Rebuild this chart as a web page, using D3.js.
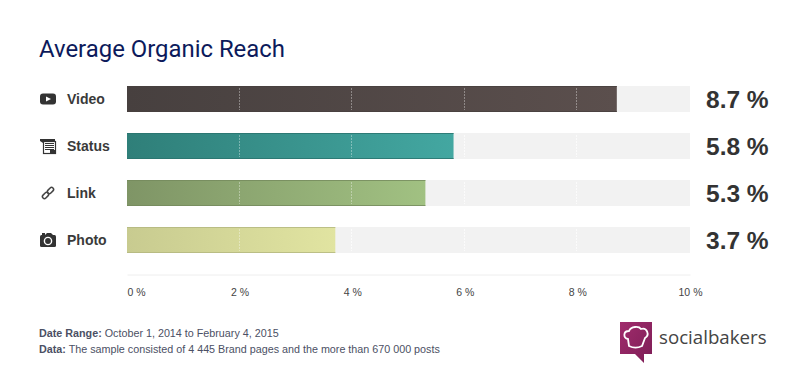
<!DOCTYPE html>
<html>
<head>
<meta charset="utf-8">
<script src="https://cdn.jsdelivr.net/npm/d3@7"></script>
<style>
html, body { margin: 0; padding: 0; background: #fff; overflow: hidden; }
text { font-family: "Liberation Sans", Arial, sans-serif; }
</style>
</head>
<body>
<script>
const categories = ["Video", "Status", "Link", "Photo"];
const reach = [8.7, 5.8, 5.3, 3.7];
const tickValues = [0, 2, 4, 6, 8, 10];
const gradientStart = ["#47403f", "#2f7f79", "#7f9566", "#c8cb90"];
const gradientEnd = ["#5b4f4d", "#43a7a1", "#a1c182", "#e1e4a1"];
const barBorder = ["#47403f", "#2a736e", "#74895c", "#b3b67f"];

const svgWidth = 802, svgHeight = 387;
const margin = {left: 127, right: 112, top: 86, bottom: 113};

const svg = d3.select("body").append("svg")
    .attr("width", svgWidth)
    .attr("height", svgHeight)
    .style("display", "block");

const x = d3.scaleLinear()
    .domain([0, 10])
    .range([margin.left, svgWidth - margin.right]);

const y = d3.scaleBand()
    .domain(categories)
    .range([margin.top - 10.5, margin.top + 188 - 10.5])
    .paddingInner(21 / 47)
    .paddingOuter(10.5 / 47);

// gradients, one per bar
const defs = svg.append("defs");
categories.forEach((c, i) => {
    const g = defs.append("linearGradient").attr("id", "bar" + i);
    g.append("stop").attr("offset", "0%").attr("stop-color", gradientStart[i]);
    g.append("stop").attr("offset", "100%").attr("stop-color", gradientEnd[i]);
});
const logoGrad = defs.append("linearGradient").attr("id", "logoGrad")
    .attr("x1", "0%").attr("y1", "0%").attr("x2", "100%").attr("y2", "100%");
logoGrad.append("stop").attr("offset", "0%").attr("stop-color", "#a02c6c");
logoGrad.append("stop").attr("offset", "100%").attr("stop-color", "#7d1d56");

svg.append("text")
    .attr("x", 39)
    .attr("y", 56.5)
    .style("font-family", "Roboto")
    .style("font-size", "23.9px")
    .attr("fill", "#0c1a5b")
    .text("Average Organic Reach");

// background tracks
svg.selectAll("rect.track")
    .data(categories)
    .enter()
    .append("rect")
        .attr("class", "track")
        .attr("x", x(0))
        .attr("y", d => y(d))
        .attr("width", x(10) - x(0))
        .attr("height", y.bandwidth())
        .attr("fill", "#f2f2f2");

// value bars
svg.selectAll("rect.bar")
    .data(reach)
    .enter()
    .append("rect")
        .attr("class", "bar")
        .attr("x", x(0))
        .attr("y", (d, i) => y(categories[i]))
        .attr("width", d => x(d) - x(0))
        .attr("height", y.bandwidth())
        .attr("fill", (d, i) => "url(#bar" + i + ")");

// thin darker edge along the top and bottom of each bar
categories.forEach((c, i) => {
    [0.5, y.bandwidth() - 0.5].forEach(off => {
        svg.append("line")
            .attr("x1", x(0))
            .attr("x2", x(reach[i]))
            .attr("y1", y(c) + off)
            .attr("y2", y(c) + off)
            .attr("stroke", barBorder[i])
            .attr("stroke-opacity", 0.8);
    });
});

// dotted gridlines over the bars
const gridTicks = tickValues.slice(1, -1);
categories.forEach((c, i) => {
    svg.selectAll("line.grid" + i)
        .data(gridTicks)
        .enter()
        .append("line")
            .attr("x1", d => Math.round(x(d)) - 0.5)
            .attr("x2", d => Math.round(x(d)) - 0.5)
            .attr("y1", y(c) + 2)
            .attr("y2", y(c) + y.bandwidth() - 2)
            .attr("stroke", "#fff")
            .attr("stroke-opacity", d => d < reach[i] ? 0.35 : 0.7)
            .attr("stroke-dasharray", "2 1");
});

// category labels
svg.selectAll("text.cat")
    .data(categories)
    .enter()
    .append("text")
        .attr("class", "cat")
        .attr("x", 67)
        .attr("y", d => y(d) + y.bandwidth() / 2 + 4.5)
        .style("font-size", "14px")
        .style("font-weight", "bold")
        .attr("fill", "#3a3a3a")
        .text(d => d);

// value labels
svg.selectAll("text.val")
    .data(reach)
    .enter()
    .append("text")
        .attr("class", "val")
        .attr("x", 706)
        .attr("y", (d, i) => y(categories[i]) + y.bandwidth() / 2 + 8.5)
        .style("font-size", "24.5px")
        .style("font-weight", "bold")
        .attr("fill", "#333")
        .text(d => d.toFixed(1) + " %");

// axis
const axis = svg.append("g")
    .attr("transform", "translate(0,274.5)")
    .call(d3.axisBottom(x).tickValues(tickValues).tickSize(0).tickPadding(14).tickFormat(d => d + " %"));
axis.select(".domain").attr("stroke", "#eeeeee");
axis.selectAll("text")
    .style("font-family", "'Liberation Sans'")
    .style("font-size", "10.5px")
    .attr("fill", "#444");
axis.selectAll(".tick text").attr("dx", d => d === 0 ? 9 : 0);

// icons
const iconColor = "#333";
function icon(name) {
    const cy = y(name) + y.bandwidth() / 2;
    return svg.append("g").attr("transform", "translate(48," + cy + ")");
}
const video = icon("Video");
video.append("rect").attr("x", -8).attr("y", -5.5).attr("width", 16).attr("height", 11).attr("rx", 3).attr("fill", iconColor);
video.append("path").attr("d", "M-2,-2.5L3,0L-2,2.5Z").attr("fill", "#fff");

const status = icon("Status");
status.append("path").attr("d", "M-8,-7H7V-4H-3V2H-5V-3L-8,-5Z").attr("fill", iconColor);
status.append("rect").attr("x", -4.5).attr("y", -4.5).attr("width", 12).attr("height", 12).attr("fill", "#fff").attr("stroke", iconColor).attr("stroke-width", 1.2);
status.selectAll("line").data([-2.5, -0.5, 1.5, 3.5]).enter().append("line")
    .attr("x1", -3).attr("x2", 6).attr("y1", d => d).attr("y2", d => d)
    .attr("stroke", iconColor);
status.append("rect").attr("x", 2).attr("y", 4).attr("width", 6).attr("height", 4).attr("fill", iconColor);

const link = icon("Link");
[[-2.5, 2.5], [2.5, -2.5]].forEach(p => {
    link.append("rect")
        .attr("x", -3.5).attr("y", -2).attr("width", 7).attr("height", 4).attr("rx", 2)
        .attr("transform", "translate(" + p[0] + "," + p[1] + ") rotate(-45)")
        .attr("fill", "none").attr("stroke", "#444").attr("stroke-width", 1.5);
});

const photo = icon("Photo");
photo.append("rect").attr("x", -8).attr("y", -5).attr("width", 16).attr("height", 12).attr("rx", 1.5).attr("fill", iconColor);
photo.append("rect").attr("x", -6).attr("y", -7).attr("width", 3).attr("height", 2).attr("fill", iconColor);
photo.append("path").attr("d", "M-3,-5L-1,-7H3L5,-5Z").attr("fill", iconColor);
photo.append("circle").attr("cx", 0).attr("cy", 1).attr("r", 3.6).attr("fill", "#333").attr("stroke", "#fff").attr("stroke-width", 1.4);

// footer notes
const notes = [
    ["Date Range:", " October 1, 2014 to February 4, 2015"],
    ["Data:", " The sample consisted of 4 445 Brand pages and the more than 670 000 posts"]
];
notes.forEach((n, i) => {
    const t = svg.append("text")
        .attr("x", 39)
        .attr("y", 336.5 + i * 16)
        .style("font-size", "10.75px")
        .attr("fill", "#4b5064");
    t.append("tspan").style("font-weight", "bold").text(n[0]);
    t.append("tspan").text(n[1]);
});

// logo
const logo = svg.append("g").attr("transform", "translate(620,322)");
logo.append("path").attr("d", "M0,0H32V32H24V41L15,32H0Z").attr("fill", "url(#logoGrad)");
logo.append("path")
    .attr("d", "M9,24L8,17C3,16 3,9 9,9C11,4 19,4 21,7C27,5 30,13 25,16L22,24C18,26 13,26 9,24Z")
    .attr("fill", "none").attr("stroke", "#fff").attr("stroke-width", 1.8);
svg.append("text")
    .attr("x", 659)
    .attr("y", 344)
    .style("font-family", "'Open Sans'")
    .style("font-size", "18.7px")
    .style("font-weight", "400")
    .attr("fill", "#444")
    .text("socialbakers");
</script>
</body>
</html>
